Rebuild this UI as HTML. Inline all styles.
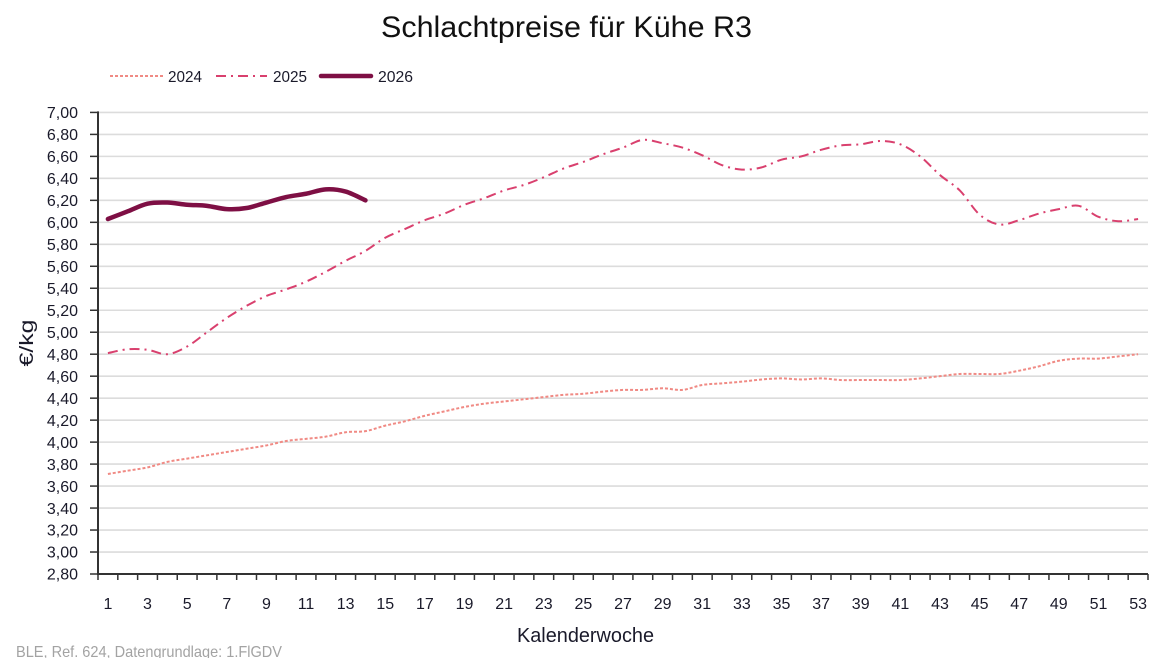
<!DOCTYPE html>
<html>
<head>
<meta charset="utf-8">
<style>
html,body{margin:0;padding:0;background:#fff;}
svg{display:block;}
text{font-family:"Liberation Sans",sans-serif;}
</style>
</head>
<body>
<svg id="c" width="1170" height="658" viewBox="0 0 1170 658" xmlns="http://www.w3.org/2000/svg">
<rect width="1170" height="658" fill="#fff"/>
<text x="381" y="37" font-size="30" fill="#111" textLength="371" lengthAdjust="spacingAndGlyphs">Schlachtpreise für Kühe R3</text>
<!-- legend -->
<line x1="110" y1="76" x2="163" y2="76" stroke="#f08a84" stroke-width="2" stroke-dasharray="3,2"/>
<text x="168" y="82" font-size="15.5" fill="#1a1a2a" textLength="34" lengthAdjust="spacingAndGlyphs">2024</text>
<line x1="216" y1="76" x2="267" y2="76" stroke="#d9406e" stroke-width="2" stroke-dasharray="10,5,2,5"/>
<text x="273" y="82" font-size="15.5" fill="#1a1a2a" textLength="34" lengthAdjust="spacingAndGlyphs">2025</text>
<line x1="321" y1="76" x2="371" y2="76" stroke="#7e0f44" stroke-width="4.5" stroke-linecap="round"/>
<text x="378" y="82" font-size="15.5" fill="#1a1a2a" textLength="35" lengthAdjust="spacingAndGlyphs">2026</text>
<g id="grid"></g>
<g id="axes"></g>
<g id="series"></g>
<text transform="translate(33,343) rotate(-90)" text-anchor="middle" font-size="19" fill="#1a1a2a" textLength="47" lengthAdjust="spacingAndGlyphs">€/kg</text>
<text x="517" y="642" font-size="20" fill="#1a1a2a" textLength="137" lengthAdjust="spacingAndGlyphs">Kalenderwoche</text>
<text x="16" y="657" font-size="16" fill="#a3a3a3" textLength="266" lengthAdjust="spacingAndGlyphs">BLE, Ref. 624, Datengrundlage: 1.FlGDV</text>
</svg>
<script>
(function(){
var NS="http://www.w3.org/2000/svg";
var X0=98,X1=1148,CW=(X1-X0)/53,Y0=574,STEP=21.98;
function yv(v){return Y0-(v-2.8)/0.2*STEP;}
function xc(i){return X0+(i-0.5)*CW;}
function el(tag,attrs,parent,txt){var e=document.createElementNS(NS,tag);for(var k in attrs)e.setAttribute(k,attrs[k]);if(txt!==undefined)e.textContent=txt;parent.appendChild(e);return e;}
var grid=document.getElementById("grid"),axes=document.getElementById("axes"),series=document.getElementById("series");
for(var k=1;k<=21;k++){
  var v=2.8+k*0.2,y=yv(v);
  el("line",{x1:X0,y1:y,x2:X1,y2:y,stroke:"#dcdcdc","stroke-width":1.6},grid);
}
for(var k=0;k<=21;k++){
  var v=2.8+k*0.2,y=yv(v);
  el("line",{x1:90,y1:y,x2:X0,y2:y,stroke:"#333","stroke-width":1.5},axes);
  el("text",{x:78,y:(y+5.7).toFixed(1),"text-anchor":"end","font-size":16,fill:"#1a1a2a"},axes,v.toFixed(2).replace(".",","));
}
el("line",{x1:X0,y1:yv(7.0)-1,x2:X0,y2:Y0+1,stroke:"#333","stroke-width":2},axes);
el("line",{x1:X0,y1:Y0,x2:X1,y2:Y0,stroke:"#333","stroke-width":2},axes);
for(var k=0;k<=53;k++){
  var x=X0+k*CW;
  el("line",{x1:x,y1:Y0,x2:x,y2:Y0+6,stroke:"#333","stroke-width":1.5},axes);
}
for(var i=1;i<=53;i+=2){
  el("text",{x:xc(i).toFixed(1),y:609,"text-anchor":"middle","font-size":16,fill:"#1a1a2a"},axes,String(i));
}
var d24=[3.71,3.74,3.77,3.82,3.85,3.88,3.91,3.94,3.97,4.01,4.03,4.05,4.09,4.10,4.15,4.19,4.24,4.28,4.32,4.35,4.37,4.39,4.41,4.43,4.44,4.46,4.475,4.475,4.49,4.475,4.52,4.535,4.55,4.57,4.58,4.57,4.58,4.565,4.565,4.565,4.565,4.58,4.60,4.62,4.62,4.62,4.65,4.69,4.74,4.76,4.76,4.78,4.80];
var d25=[4.81,4.845,4.84,4.80,4.87,5.00,5.13,5.24,5.33,5.39,5.46,5.55,5.65,5.74,5.86,5.94,6.02,6.08,6.16,6.22,6.29,6.34,6.41,6.49,6.55,6.62,6.68,6.75,6.72,6.68,6.61,6.52,6.48,6.50,6.57,6.60,6.66,6.70,6.71,6.74,6.71,6.60,6.43,6.29,6.07,5.98,6.02,6.08,6.12,6.15,6.05,6.01,6.03];
var d26=[6.03,6.10,6.17,6.18,6.16,6.15,6.12,6.13,6.18,6.23,6.26,6.30,6.28,6.20];
function path(d){
  var p=d.map(function(v,i){return [xc(i+1),yv(v)];});
  var s="M"+p[0][0].toFixed(2)+","+p[0][1].toFixed(2);
  for(var i=0;i<p.length-1;i++){
    var p0=p[i>0?i-1:i],p1=p[i],p2=p[i+1],p3=p[i+2<p.length?i+2:i+1];
    var c1x=p1[0]+(p2[0]-p0[0])/6,c1y=p1[1]+(p2[1]-p0[1])/6;
    var c2x=p2[0]-(p3[0]-p1[0])/6,c2y=p2[1]-(p3[1]-p1[1])/6;
    s+=" C"+c1x.toFixed(2)+","+c1y.toFixed(2)+" "+c2x.toFixed(2)+","+c2y.toFixed(2)+" "+p2[0].toFixed(2)+","+p2[1].toFixed(2);
  }
  return s;
}
el("path",{d:path(d24),fill:"none",stroke:"#f08a84","stroke-width":2,"stroke-dasharray":"3,2"},series);
el("path",{d:path(d25),fill:"none",stroke:"#d9406e","stroke-width":2,"stroke-dasharray":"10,5,2,5"},series);
el("path",{d:path(d26),fill:"none",stroke:"#7e0f44","stroke-width":4.5,"stroke-linecap":"round","stroke-linejoin":"round"},series);
})();
</script>
</body>
</html>
